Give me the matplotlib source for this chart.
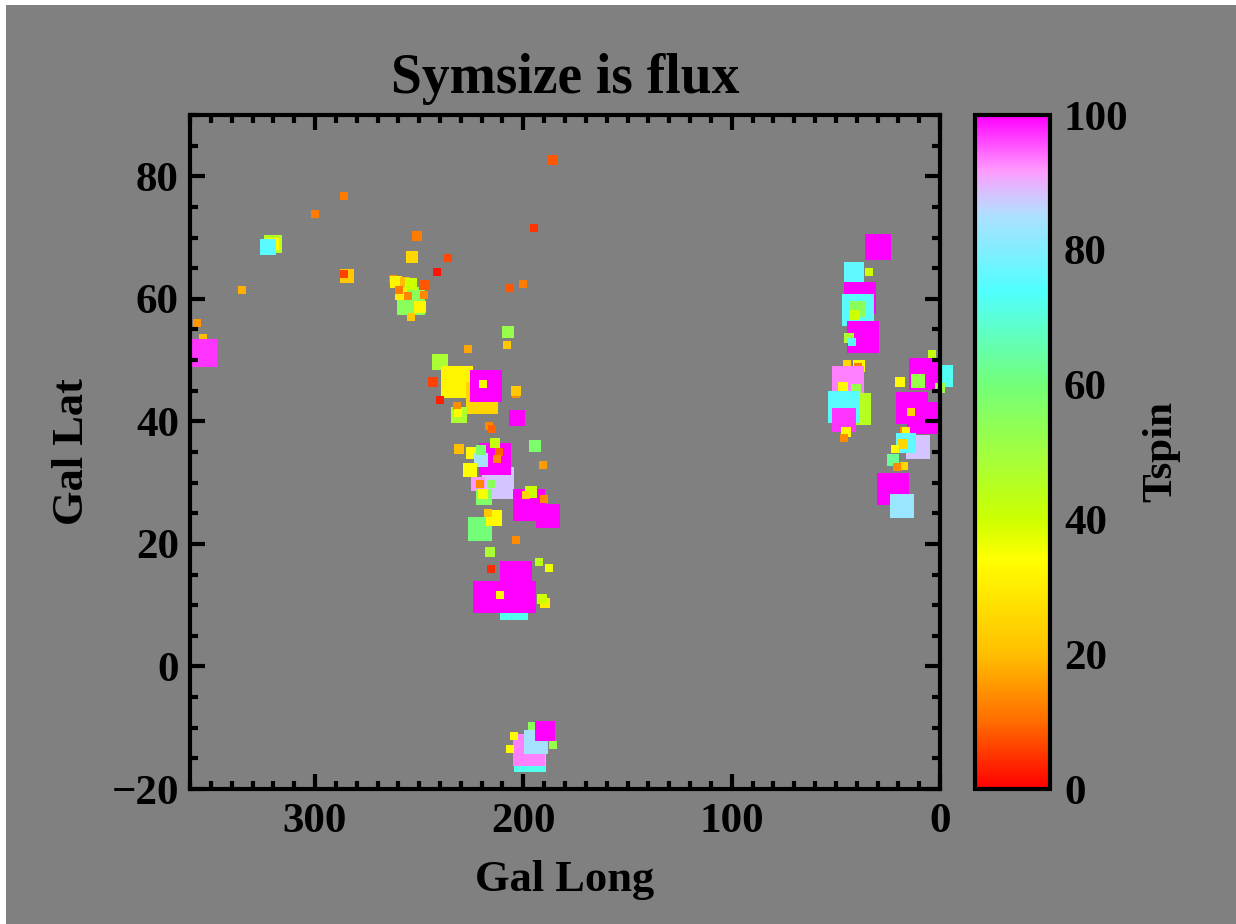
import numpy as np
import matplotlib
matplotlib.use("Agg")
import matplotlib.pyplot as plt
from matplotlib.colors import LinearSegmentedColormap, Normalize
from matplotlib.ticker import MultipleLocator
from matplotlib.patches import Rectangle

plt.rcParams['font.family'] = ['Liberation Serif', 'DejaVu Serif']
plt.rcParams['font.weight'] = 'bold'

# galactic longitude (deg), latitude (deg), flux (symbol size), spin temperature (K)
gal_long = [320, 320, 322.6, 354, 353.8, 356.7, 335, 300, 286, 284.7, 286, 186, 195, 251, 253.5, 236, 241.5,
            254, 258.8, 249.6, 254, 262.6, 261, 257, 254, 247.7, 247.7, 259.5, 255.5,
            200, 207, 207.4, 208, 226.6, 240,
            231.9, 243.4, 240, 220, 218, 219.5, 231, 232, 231.5, 203.5, 203.5, 203, 216.5, 215, 231,
            212, 213.4, 221.8, 213.6, 211.7, 212.6, 224.5, 220.4, 220.3, 225.4, 221, 219, 219.5, 215.3,
            197.5, 188.2, 196.3, 198.5, 190, 190.6, 194.4,
            220.8, 214, 217, 203.5, 216, 215.5, 204.3, 203.3, 216.5, 201.6, 211, 192.5, 187.7, 189.6, 191,
            196.6, 197.5, 194, 196, 189.4, 204.5, 206.4, 186,
            29.8, 41.3, 34, 38.4, 39.4, 39.4, 40.8, 37, 43.7, 42.2, 44.6, 39, 39.3, 44, 40.3, 46.6,
            41, 46.3, 46.1, 45, 46,
            -1, 7, 0, 3.8, 10.6, 19.2, 13.4, 8.4, 13.7, 17.3, 16.5, 10.6, 16.3, 17.8,
            21.6, 22.6, 17.5, 20.6, 22.8, 18.2]
gal_lat = [69, 69, 68.4, 53.6, 51.2, 56, 61.5, 73.8, 76.7, 63.8, 64, 82.6, 71.5, 70.3, 66.9, 66.7, 64.3,
           59.7, 60.8, 58.6, 57, 63.3, 62.8, 62.8, 62.5, 62.2, 60.7, 61.5, 60.5,
           62.5, 61.8, 54.6, 52.5, 51.8, 49.7,
           46.4, 46.4, 43.5, 43.8, 45.8, 46.1, 41, 42.5, 41.3, 44.5, 45, 40.6, 39.2, 38.8, 35.5,
           30, 33.9, 29.8, 36.5, 35, 33.8, 34.8, 33.7, 35.3, 32, 29.8, 27.6, 28.2, 29.7,
           26.3, 24.5, 28.5, 28, 27.3, 32.9, 36,
           22.4, 24.2, 25, 20.6, 18.6, 15.9, 9.9, 14.6, 11.3, 11.4, 11.6, 17, 16, 10.3, 11,
           -14.6, -13.7, -12.4, -9.7, -10.5, -11.3, -13.5, -12.8,
           68.5, 64.4, 64.3, 60.2, 58.2, 58.3, 57.4, 53.8, 53.6, 53.0, 49.4, 49, 48.8, 46.4, 45.3, 45.6,
           42, 42.3, 40.2, 38.3, 37.3,
           47.4, 47.7, 45.5, 51, 46.6, 46.4, 42.2, 40.5, 41.6, 38.4, 38.5, 35.8, 36.5, 36.3,
           35.5, 33.7, 32.7, 32.5, 28.9, 26.2]
flux = [4.7, 3.0, 4.0, 2.0, 7.0, 2.0, 2.0, 2.0, 2.0, 3.7, 2.0, 2.5, 2.0, 2.5, 3.2, 2.0, 2.0,
        7.2, 3.2, 3.0, 2.2, 2.0, 3.0, 2.5, 3.0, 2.5, 2.2, 2.0, 2.2,
        2.2, 2.0, 3.0, 2.2, 2.0, 4.0,
        8.2, 2.5, 2.0, 8.2, 8.2, 2.2, 4.2, 2.2, 2.0, 2.0, 2.5, 4.2, 2.0, 2.0, 2.5,
        8.2, 8.2, 3.7, 2.7, 2.0, 2.2, 3.0, 3.7, 2.7, 3.7, 2.0, 4.0, 2.5, 2.0,
        8.2, 6.2, 3.0, 2.0, 2.0, 2.0, 3.2,
        6.2, 4.2, 2.2, 2.0, 2.7, 2.2, 7.2, 8.2, 8.2, 8.2, 2.0, 2.2, 2.2, 2.5, 2.5,
        8.2, 8.2, 6.0, 2.0, 5.0, 2.0, 1.8, 1.8,
        6.7, 5.2, 2.0, 8.2, 8.2, 4.0, 2.5, 8.2, 2.5, 2.2, 2.2, 3.0, 2.0, 8.2, 2.5, 2.5,
        8.2, 8.2, 6.0, 2.5, 2.0,
        5.5, 8.2, 2.5, 2.0, 3.5, 2.5, 8.2, 8.2, 2.2, 2.0, 1.8, 6.0, 5.0, 2.5,
        2.0, 3.0, 2.0, 2.0, 8.2, 6.0]
tspin = [45, 33, 75, 20, 97, 15, 18, 12, 12, 22, 6, 8, 5, 12, 25, 7, 2,
         55, 30, 32, 22, 14, 32, 20, 40, 8, 13, 12, 13,
         12, 8, 52, 22, 17, 48,
         32, 6, 3, 25, 100, 33, 47, 14, 33, 14, 22, 100, 13, 9, 20,
         88, 100, 92, 42, 9, 14, 33, 84, 58, 34, 13, 57, 35, 55,
         100, 100, 40, 25, 14, 16, 58,
         60, 33, 22, 14, 48, 4, 72, 100, 100, 100, 33, 44, 36, 30, 40,
         72, 93, 84, 55, 100, 33, 33, 52,
         100, 76, 40, 100, 75, 55, 40, 100, 48, 75, 25, 33, 12, 93, 52, 33,
         45, 75, 97, 33, 14,
         73, 100, 50, 42, 52, 33, 100, 100, 25, 14, 33, 88, 76, 25,
         33, 63, 25, 14, 100, 83]

cmap = LinearSegmentedColormap.from_list('tspin', [
    (0.00, (1.00, 0.00, 0.00)),
    (0.10, (1.00, 0.43, 0.00)),
    (0.20, (1.00, 0.75, 0.00)),
    (0.34, (1.00, 1.00, 0.00)),
    (0.40, (0.80, 1.00, 0.00)),
    (0.50, (0.63, 1.00, 0.25)),
    (0.60, (0.45, 1.00, 0.47)),
    (0.74, (0.31, 1.00, 1.00)),
    (0.85, (0.67, 0.88, 1.00)),
    (0.88, (0.82, 0.78, 1.00)),
    (0.92, (1.00, 0.60, 1.00)),
    (1.00, (1.00, 0.00, 1.00)),
])
norm = Normalize(vmin=0, vmax=100)

fig = plt.figure(figsize=(12.36, 9.24), dpi=100)
fig.patch.set_facecolor('white')
fig.add_artist(Rectangle((6 / 1236, 0), 1, 1 - 5 / 924, transform=fig.transFigure,
                         facecolor='#808080', edgecolor='none', zorder=-10))

ax = fig.add_axes([190 / 1236, 1 - 789 / 924, 750 / 1236, 674 / 924])
ax.set_facecolor('#808080')

px_per_flux = 4.0
sizes = (np.array(flux) * px_per_flux * 0.72) ** 2
cols = cmap(norm(np.array(tspin)))
for lo, la, s, c in zip(gal_long, gal_lat, sizes, cols):
    ax.scatter(lo, la, s=s, marker='s', color=c, linewidths=0, clip_on=False)

ax.set_xlim(360, 0)
ax.set_ylim(-20, 90)
ax.xaxis.set_major_locator(MultipleLocator(100))
ax.xaxis.set_minor_locator(MultipleLocator(10))
ax.yaxis.set_major_locator(MultipleLocator(20))
ax.yaxis.set_minor_locator(MultipleLocator(5))
ax.tick_params(which='both', direction='in', top=True, right=True, width=3, colors='black',
               labelsize=31)
ax.tick_params(which='major', length=11)
ax.tick_params(which='minor', length=6)
ax.tick_params(axis='x', pad=10)
ax.tick_params(axis='y', pad=8)
for sp in ax.spines.values():
    sp.set_linewidth(3)
for lab in ax.get_xticklabels() + ax.get_yticklabels():
    lab.set_fontweight('bold')

ax.set_xlabel('Gal Long', fontsize=32, fontweight='bold', labelpad=14)
ax.set_ylabel('Gal Lat', fontsize=32, fontweight='bold', labelpad=14)
ax.set_title('Symsize is flux', fontsize=40, fontweight='bold', pad=16)

cax = fig.add_axes([975 / 1236, 1 - 789 / 924, 75 / 1236, 674 / 924])
sm = matplotlib.cm.ScalarMappable(norm=norm, cmap=cmap)
cb = fig.colorbar(sm, cax=cax, ticks=[0, 20, 40, 60, 80, 100])
cb.outline.set_linewidth(3)
cax.tick_params(length=0, labelsize=31, pad=10)
for lab in cax.get_yticklabels():
    lab.set_fontweight('bold')
cb.set_label('Tspin', fontsize=31, fontweight='bold', labelpad=10)

fig.savefig('out.png', dpi=100, facecolor=fig.get_facecolor())
